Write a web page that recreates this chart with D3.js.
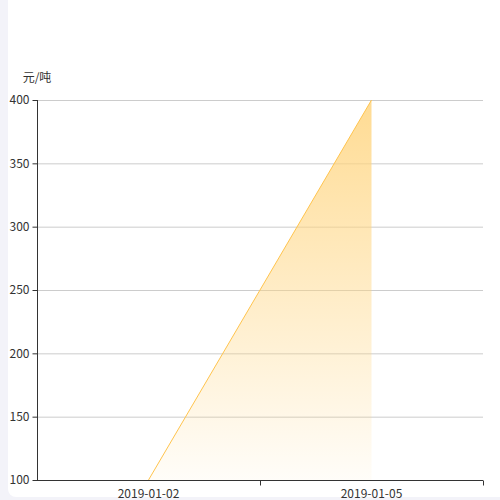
<!DOCTYPE html>
<html lang="zh">
<head>
    <meta charset="UTF-8">
    <title>Chart</title>
</head>
<style>
    body {
        margin: 0;
        background: #f3f3f9;
    }

    .tick text {
        font-family: "Microsoft YaHei", "Noto Sans CJK SC", sans-serif;
        font-size: 12px;
        fill: #333;
    }

</style>
<body>
<script src='https://d3js.org/d3.v7.min.js'></script>
<script>
    const width = 500, height = 500;
    const dates = ["2019-01-02", "2019-01-05"];
    const prices = [100, 400];
    const yTicks = [100, 150, 200, 250, 300, 350, 400];
    const margin = {top: 100, right: 17, bottom: 20, left: 37};

    const svg = d3.select("body")
        .append("svg")
        .attr("width", width)
        .attr("height", height)
        .style("display", "block");

    // white card on the grey page
    svg.append("rect")
        .attr("x", 8)
        .attr("y", -10)
        .attr("width", width)
        .attr("height", 507)
        .attr("rx", 8)
        .attr("fill", "#fff");

    const x = d3.scaleBand()
        .domain(dates)
        .range([margin.left, width - margin.right]);

    const y = d3.scaleLinear()
        .domain([100, 400])
        .range([height - margin.bottom, margin.top]);

    const defs = svg.append("defs");
    const grad = defs.append("linearGradient")
        .attr("id", "fillGrad")
        .attr("x1", 0).attr("y1", 0)
        .attr("x2", 0).attr("y2", 1);
    grad.append("stop").attr("offset", "0%").attr("stop-color", "#ffd580").attr("stop-opacity", 0.85);
    grad.append("stop").attr("offset", "100%").attr("stop-color", "#ffd580").attr("stop-opacity", 0.05);

    // grid
    svg.append("g")
        .selectAll("line")
        .data(yTicks.slice(1))
        .enter().append("line")
        .attr("x1", margin.left)
        .attr("x2", width - margin.right)
        .attr("y1", d => y(d) + 0.5)
        .attr("y2", d => y(d) + 0.5)
        .attr("stroke", "#ccc")
        .attr("stroke-width", 1);

    const pts = dates.map((d, i) => ({date: d, value: prices[i]}));
    const cx = d => x(d.date) + x.bandwidth() / 2;

    svg.append("path")
        .datum(pts)
        .attr("fill", "url(#fillGrad)")
        .attr("d", d3.area().x(cx).y0(y(100)).y1(d => y(d.value)));

    svg.append("path")
        .datum(pts)
        .attr("fill", "none")
        .attr("stroke", "#ffc44d")
        .attr("stroke-width", 1)
        .attr("d", d3.line().x(cx).y(d => y(d.value)));

    // x axis
    const xAxis = svg.append("g")
        .attr("transform", "translate(0," + (y(100) + 0.5) + ")");
    xAxis.append("line")
        .attr("x1", margin.left).attr("x2", width - margin.right)
        .attr("stroke", "#333");
    xAxis.selectAll("line.tk")
        .data(dates)
        .enter().append("line")
        .attr("class", "tk")
        .attr("x1", d => x(d) + x.bandwidth() + 0.5)
        .attr("x2", d => x(d) + x.bandwidth() + 0.5)
        .attr("y1", 0).attr("y2", 5)
        .attr("stroke", "#333");
    xAxis.selectAll("text")
        .data(dates)
        .enter().append("text")
        .attr("x", d => x(d) + x.bandwidth() / 2)
        .attr("y", 17)
        .attr("text-anchor", "middle")
        .style("font-family", "'Microsoft YaHei', 'Noto Sans CJK SC', sans-serif")
        .style("font-size", "12px")
        .attr("fill", "#333")
        .text(d => d);

    // y axis
    const yAxis = svg.append("g")
        .attr("transform", "translate(" + (margin.left + 0.5) + ",0)")
        .call(d3.axisLeft(y).tickValues(yTicks).tickSize(5).tickPadding(3));
    yAxis.select(".domain").attr("stroke", "#333").attr("d", "M0," + y(400) + "V" + y(100));
    yAxis.selectAll(".tick line").attr("stroke", "#333");

    svg.append("text")
        .attr("x", margin.left)
        .attr("y", 82)
        .attr("text-anchor", "middle")
        .style("font-family", "'Microsoft YaHei', 'Noto Sans CJK SC', sans-serif")
        .style("font-size", "12px")
        .attr("fill", "#333")
        .text("元/吨");
</script>
</body>
</html>
